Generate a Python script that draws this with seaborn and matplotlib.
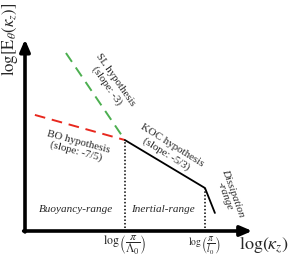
import matplotlib
matplotlib.use("Agg")
import matplotlib.pyplot as plt
import seaborn as sns
import pandas as pd

sns.set_style("white")
plt.rcParams['font.family'] = ['Liberation Serif', 'DejaVu Serif']
plt.rcParams['mathtext.fontset'] = 'stix'

# schematic spectrum in arbitrary log units
sl_k = [1.82, 4.44]
sl_E = [9.57, 4.89]
bo_k = [0.44, 4.44]
bo_E = [6.24, 4.89]
koc_k = [4.44, 8.0, 8.44]
koc_E = [4.89, 2.31, 0.97]
breaks_k = [4.44, 8.0]
breaks_E = [4.89, 2.31]
tick_labels = [r'$\log\left(\dfrac{\pi}{\Lambda_0}\right)$',
               r'$\log\left(\dfrac{\pi}{l_0}\right)$']

fig = plt.figure(figsize=(2.9, 2.63), dpi=100)
ax = fig.add_axes([25 / 290, 32 / 263, 225 / 290, 186 / 263])
ax.set_xlim(0, 10)
ax.set_ylim(0, 10)

sns.lineplot(x=sl_k, y=sl_E, ax=ax, color='#4caf50', lw=1.4)
ax.lines[-1].set_dashes([5.5, 3.5])
sns.lineplot(x=bo_k, y=bo_E, ax=ax, color='#e8281e', lw=1.4)
ax.lines[-1].set_dashes([5.5, 3.5])
sns.lineplot(x=koc_k, y=koc_E, ax=ax, color='black', lw=1.3, sort=False)

for k, e in zip(breaks_k, breaks_E):
    ax.plot([k, k], [0.15, e], color='black', lw=1.1, ls=(0, (1, 1.3)))

for s in ax.spines.values():
    s.set_visible(False)
ax.annotate('', xy=(0, 1.03), xytext=(0, -0.005), xycoords='axes fraction',
            arrowprops=dict(arrowstyle='-|>,head_length=0.7,head_width=0.3',
                            lw=2.6, color='black', shrinkA=0, shrinkB=0))
ax.annotate('', xy=(1.01, 0), xytext=(-0.006, 0), xycoords='axes fraction',
            arrowprops=dict(arrowstyle='-|>,head_length=0.7,head_width=0.3',
                            lw=2.6, color='black', shrinkA=0, shrinkB=0))

ax.set_yticks([])
ax.set_xticks(breaks_k)
ax.set_xticklabels(tick_labels)
ax.tick_params(axis='x', length=0, pad=2)
for lab, fs in zip(ax.get_xticklabels(), [8.5, 7]):
    lab.set_fontsize(fs)

fig.text(264 / 290, 1 - 246 / 263, r'$\log(\kappa_z)$', fontsize=13,
         ha='center', va='center')
fig.text(10 / 290, 1 - 39 / 263, r'$\log[\mathrm{E}_\theta(\kappa_z)]$', fontsize=12,
         rotation=90, ha='center', va='center')

def px(x, y):
    return (x - 25) / 22.5, (231 - y) / 18.6

ax.text(*px(111, 83), 'SL hypothesis\n(slope: -3)', fontsize=7.8, rotation=-55,
        ha='center', va='center', linespacing=1.1)
ax.text(*px(77, 147), 'BO hypothesis\n(slope: -7/5)', fontsize=7.8, rotation=-15,
        ha='center', va='center', linespacing=1.1)
ax.text(*px(169, 150), 'KOC hypothesis\n(slope: -5/3)', fontsize=7.8, rotation=-32,
        ha='center', va='center', linespacing=1.1)
ax.text(*px(229, 195), 'Dissipation\n-range', fontsize=7.8, rotation=-70,
        ha='center', va='center', linespacing=1.0, style='italic')
ax.text(*px(76, 209), 'Buoyancy-range', fontsize=8, style='italic',
        ha='center', va='center')
ax.text(*px(163, 209), 'Inertial-range', fontsize=8, style='italic',
        ha='center', va='center')

fig.savefig('out.png', dpi=100)
